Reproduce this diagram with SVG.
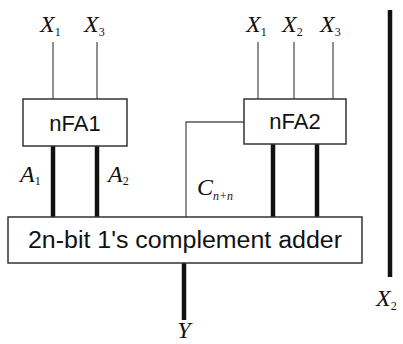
<svg xmlns="http://www.w3.org/2000/svg" width="403" height="344" viewBox="0 0 403 344">
<style>
.box{fill:#fff;stroke:#333;stroke-width:1.5}
.thin{stroke:#555;stroke-width:1.3;fill:none}
.thick{stroke:#111;stroke-width:4.5;fill:none}
.lbl{font-family:"Liberation Sans",Arial,sans-serif;fill:#111}
.v{font-family:"Liberation Serif","Times New Roman",serif;font-style:italic;font-size:24px;fill:#111}
.s{font-family:"Liberation Serif","Times New Roman",serif;font-size:12px;fill:#111}
</style>
<rect width="403" height="344" fill="#fff"/>
<g id="connectors">
<line class="thin" x1="53" y1="42" x2="53" y2="99"/>
<line class="thin" x1="97" y1="42" x2="97" y2="99"/>
<line class="thin" x1="258" y1="42" x2="258" y2="99"/>
<line class="thin" x1="294" y1="42" x2="294" y2="99"/>
<line class="thin" x1="333" y1="42" x2="333" y2="99"/>
<polyline class="thin" points="244,122 186,122 186,217"/>
<line class="thick" x1="53" y1="146" x2="53" y2="217"/>
<line class="thick" x1="97" y1="146" x2="97" y2="217"/>
<line class="thick" x1="273" y1="144" x2="273" y2="217"/>
<line class="thick" x1="317" y1="144" x2="317" y2="217"/>
<line class="thick" x1="184" y1="263" x2="184" y2="320"/>
<line class="thick" x1="390" y1="10" x2="390" y2="277"/>
</g>
<g id="nFA1">
<rect class="box" x="23" y="99" width="104" height="47"/>
<text class="lbl" x="75" y="131" font-size="22" text-anchor="middle">nFA1</text>
</g>
<g id="nFA2">
<rect class="box" x="244" y="99" width="102" height="45"/>
<text class="lbl" x="295" y="129" font-size="22" text-anchor="middle">nFA2</text>
</g>
<g id="adder">
<rect class="box" x="8" y="217" width="354" height="46"/>
<text class="lbl" x="28" y="248" font-size="23" textLength="314" lengthAdjust="spacingAndGlyphs">2n-bit 1's complement adder</text>
</g>
<g id="labels">
<text x="40" y="32"><tspan class="v">X</tspan><tspan class="s" dy="4">1</tspan></text>
<text x="84" y="32"><tspan class="v">X</tspan><tspan class="s" dy="4">3</tspan></text>
<text x="246" y="32"><tspan class="v">X</tspan><tspan class="s" dy="4">1</tspan></text>
<text x="282" y="32"><tspan class="v">X</tspan><tspan class="s" dy="4">2</tspan></text>
<text x="320" y="32"><tspan class="v">X</tspan><tspan class="s" dy="4">3</tspan></text>
<text x="20" y="182"><tspan class="v">A</tspan><tspan class="s" dy="3">1</tspan></text>
<text x="108" y="182"><tspan class="v">A</tspan><tspan class="s" dy="3">2</tspan></text>
<text x="197" y="195"><tspan class="v">C</tspan><tspan class="s" dy="5" font-style="italic" font-size="10">n+n</tspan></text>
<text x="376" y="306"><tspan class="v">X</tspan><tspan class="s" dy="4">2</tspan></text>
<text class="v" x="184" y="338" text-anchor="middle">Y</text>
</g>
</svg>
